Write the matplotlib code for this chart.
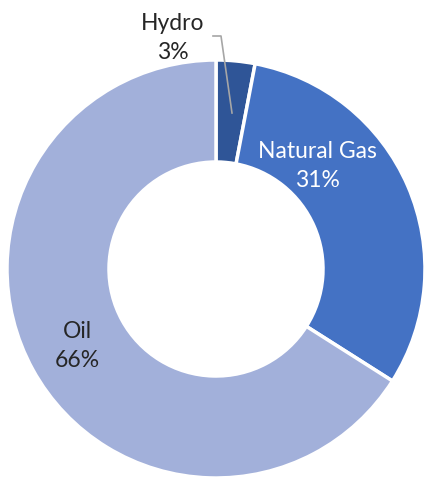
import matplotlib
matplotlib.use("Agg")
import matplotlib.pyplot as plt

categories = ["Hydro", "Natural Gas", "Oil"]
shares = [3, 31, 66]
colors = ["#2F5597", "#4472C4", "#A2B0DA"]

W, H = 424, 479
fig = plt.figure(figsize=(W / 100, H / 100), dpi=100)
ax = fig.add_axes([0, 0, 1, 1])

cx, cy, R = 216, H - 269, 209
ax.pie(shares, colors=colors, startangle=90, counterclock=False,
       center=(cx, cy), radius=R, frame=True,
       wedgeprops=dict(width=R - 107, edgecolor="white", linewidth=2.5))
ax.set_xlim(0, W)
ax.set_ylim(0, H)
ax.set_aspect("equal")
ax.axis("off")

font = ["Lato", "DejaVu Sans"]
fs = 16.5


def label(x, y, name, pct, color):
    ax.text(x, H - y, f"{name}\n{pct}%", ha="center", va="center",
            fontsize=fs, color=color, family=font, linespacing=1.45)


label(173, 38, categories[0], shares[0], "#262626")
label(317, 166, categories[1], shares[1], "white")
label(77, 346, categories[2], shares[2], "#262626")

# leader line for the small slice
ax.plot([213, 221, 232], [H - 36, H - 36, H - 113], color="#A6A6A6", lw=1.2)

fig.savefig("out.png", dpi=100)
